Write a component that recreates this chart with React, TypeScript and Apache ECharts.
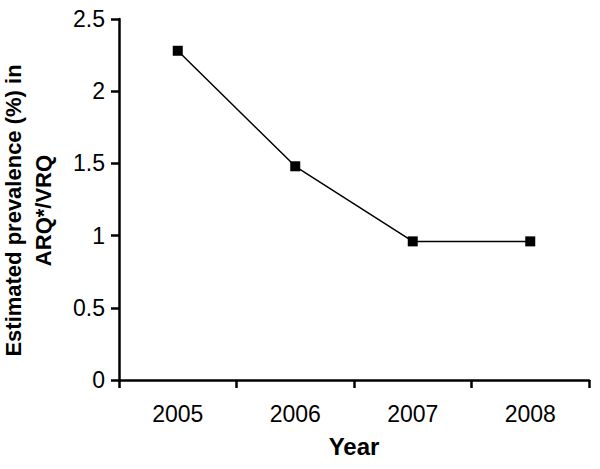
import React, { useEffect, useRef } from "react";
import * as echarts from "echarts";

const years = ["2005", "2006", "2007", "2008"];
const prevalence = [2.28, 1.48, 0.96, 0.96];
const yTicks = { min: 0, max: 2.5, interval: 0.5 };
const xTitle = "Year";
const yTitle = "Estimated prevalence (%) in\nARQ*/VRQ";

export default function App() {
  const ref = useRef<HTMLDivElement>(null);
  useEffect(() => {
    const chart = echarts.init(ref.current!, null, { renderer: "svg" });
    const font = "'Liberation Sans', Arial, sans-serif";
    chart.setOption({
      animation: false,
      backgroundColor: "#fff",
      grid: { left: 119, right: 11, top: 19, bottom: 89, outerBoundsMode: "none", containLabel: false },
      xAxis: {
        type: "category",
        data: years,
        boundaryGap: true,
        name: xTitle,
        nameLocation: "middle",
        nameGap: 54,
        nameTextStyle: { fontFamily: font, fontSize: 24, fontWeight: "bold", color: "#000" },
        axisLine: { lineStyle: { color: "#000", width: 2.5 } },
        axisTick: { show: true, inside: false, length: 8, lineStyle: { color: "#000", width: 2.5 } },
        axisLabel: { fontFamily: font, fontSize: 23, color: "#000", margin: 22 },
        splitLine: { show: false },
      },
      yAxis: {
        type: "value",
        min: yTicks.min,
        max: yTicks.max,
        interval: yTicks.interval,
        name: yTitle,
        nameLocation: "middle",
        nameGap: 61,
        nameTextStyle: {
          fontFamily: font,
          fontSize: 22,
          fontWeight: "bold",
          color: "#000",
          lineHeight: 30,
          align: "center",
          padding: [0, 22, 0, 0],
        },
        axisLine: { show: true, lineStyle: { color: "#000", width: 2.5 } },
        axisTick: { show: true, inside: false, length: 8, lineStyle: { color: "#000", width: 2.5 } },
        axisLabel: { fontFamily: font, fontSize: 23, color: "#000", margin: 14 },
        splitLine: { show: false },
      },
      series: [
        {
          type: "line",
          data: prevalence,
          symbol: "rect",
          symbolSize: 10,
          itemStyle: { color: "#000" },
          lineStyle: { color: "#000", width: 1.5 },
        },
      ],
    });
    return () => chart.dispose();
  }, []);
  return <div ref={ref} style={{ width: 600, height: 469, position: "absolute", left: 0, top: 0 }} />;
}
